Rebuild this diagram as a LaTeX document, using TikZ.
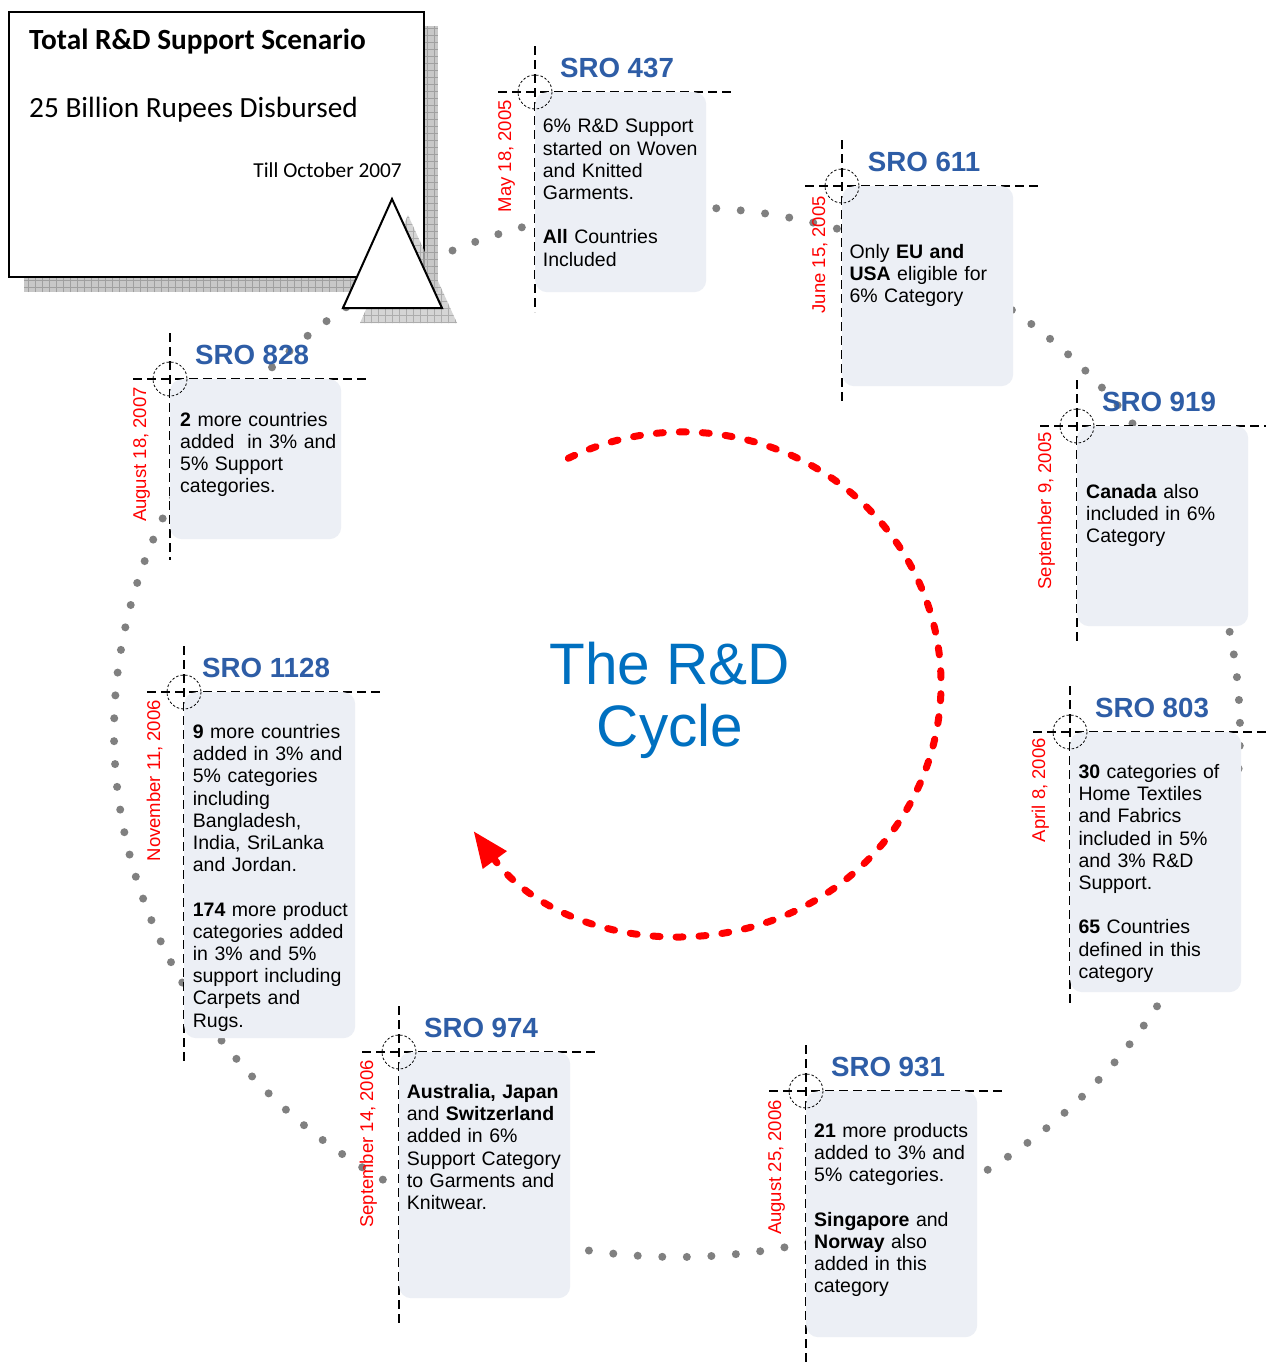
\documentclass[tikz,border=0pt]{standalone}
\usepackage{fontspec}
\setmainfont{Liberation Sans}
\newfontfamily\carlito{Carlito}
\usetikzlibrary{arrows.meta}
\definecolor{sroblue}{RGB}{46,93,166}
\definecolor{cycleblue}{RGB}{0,112,192}
\definecolor{cardfill}{RGB}{236,239,245}
\definecolor{dotgray}{RGB}{128,128,128}
\definecolor{shadowfill}{RGB}{200,200,200}
\definecolor{shadowgrid}{RGB}{160,160,160}
\tikzset{
  card/.style={fill=cardfill, rounded corners=12pt, draw=none, inner sep=0pt, anchor=north west},
  guide/.style={draw=black, line width=1.5pt, dash pattern=on 9pt off 5pt},
  ring/.style={draw=black, line width=0.8pt, dash pattern=on 2.5pt off 2pt},
  srotitle/.style={font=\fontsize{27.7}{30}\selectfont\bfseries, text=sroblue, inner sep=0pt, anchor=base},
  datelbl/.style={font=\fontsize{18.5}{20}\selectfont, text=red, rotate=90, anchor=base east, inner sep=0pt},
  cardtext/.style={font=\fontsize{19.5}{22.2}\selectfont, text width=175pt, align=left, anchor=north west, inner sep=0pt},
  boxfont/.style={inner sep=0pt},
  gridshade/.style={shadowgrid, line width=0.7pt},
}
% #1 id, #2 cx, #3 cy, #4 card height, #5 guide bottom, #6 date shift, #7 title, #8 date
\newcommand\sroitem[8]{%
  \coordinate (x#1) at (#2,#3);
  \draw[guide] (#2,#3-46) -- (#2,#5);
  \draw[guide] (#2-37,#3) -- (#2+198,#3);
  \node[card, minimum width=171pt, minimum height=#4pt] (c#1) at (x#1) {};
  \draw[ring] (x#1) circle (17);
  \node[srotitle] (t#1) at (#2+82,#3-15) {#7};
  \node[datelbl] (d#1) at ([shift={(#6)}]x#1) {#8};
}
\begin{document}
\begin{tikzpicture}[x=1pt,y=-1pt]
\useasboundingbox (0,0) rectangle (1266,1363);
\fill[white] (0,0) rectangle (1266,1363);

% dotted orbit
\foreach \a in {0,2.5,...,357.5}
  \fill[dotgray] ({677+563*cos(\a+1.5)},{732+525*sin(\a+1.5)}) circle (4);

% summary box with shadow
\begin{scope}
  \clip (24,26) rectangle (438,292);
  \fill[shadowfill] (24,26) rectangle (438,292);
  \draw[gridshade] (24,26) grid[step=7pt] (438,292);
\end{scope}
\node[draw=black, line width=2pt, fill=white, minimum width=415pt, minimum height=265pt, anchor=north west, inner sep=0pt] (box) at (8,11) {};
\node[boxfont, anchor=base west, font=\carlito\fontsize{29.3}{31}\selectfont\bfseries] (boxtitle) at (29,49) {Total R\&D Support Scenario};
\node[boxfont, anchor=base west, font=\carlito\fontsize{29.3}{31}\selectfont] (boxsum) at (29,117) {25 Billion Rupees Disbursed};
\node[boxfont, anchor=base east, font=\carlito\fontsize{21.3}{23}\selectfont] (boxdate) at (402,177) {Till October 2007};

% triangle with shadow
\begin{scope}[opacity=0.75]
  \clip (408,215) -- (360,323) -- (457,323) -- cycle;
  \fill[shadowfill] (350,210) rectangle (460,325);
  \draw[gridshade] (350,210) grid[step=7pt] (460,325);
\end{scope}
\draw[line width=2pt, fill=white, line join=miter] (392,199) -- (343,308) -- (442,308) -- cycle;

% SRO items
\sroitem{437}{535}{92}{200}{312}{-24,8}{SRO 437}{May 18, 2005}
\sroitem{611}{842}{186}{200}{405}{-17,10}{SRO 611}{June 15, 2005}
\sroitem{919}{1077}{426}{200}{645}{-26,6}{SRO 919}{September 9, 2005}
\sroitem{803}{1070}{732}{260}{1005}{-25,6}{SRO 803}{April 8, 2006}
\sroitem{931}{806}{1091}{246}{1363}{-25,9}{SRO 931}{August 25, 2006}
\sroitem{974}{399}{1052}{246}{1325}{-26,8}{SRO 974}{September 14, 2006}
\sroitem{1128}{184}{692}{346}{1065}{-24,8}{SRO 1128}{November 11, 2006}
\sroitem{828}{170}{379}{160}{560}{-24,8}{SRO 828}{August 18, 2007}

% card texts
\node[cardtext] (s437) at (542.7,117.7) {\rule{0pt}{15pt}6\% R\&D Support\\ started on Woven\\ and Knitted\\ Garments.\\[22.2pt] \textbf{All} Countries\\ Included};
\node[cardtext] (s611) at (849.3,243.3) {\rule{0pt}{15pt}Only \textbf{EU and}\\ \textbf{USA} eligible for\\ 6\% Category};
\node[cardtext] (s919) at (1086,483.3) {\rule{0pt}{15pt}\textbf{Canada} also\\ included in 6\%\\ Category};
\node[cardtext] (s803) at (1078.3,763.3) {\rule{0pt}{15pt}\textbf{30} categories of\\ Home Textiles\\ and Fabrics\\ included in 5\%\\ and 3\% R\&D\\ Support.\\[22.2pt] \textbf{65} Countries\\ defined in this\\ category};
\node[cardtext] (s931) at (814,1122.3) {\rule{0pt}{15pt}\textbf{21} more products\\ added to 3\% and\\ 5\% categories.\\[22.2pt] \textbf{Singapore} and\\ \textbf{Norway} also\\ added in this\\ category};
\node[cardtext] (s974) at (406.7,1083.3) {\rule{0pt}{15pt}\textbf{Australia, Japan}\\ and \textbf{Switzerland}\\ added in 6\%\\ Support Category\\ to Garments and\\ Knitwear.};
\node[cardtext] (s1128) at (192.7,723.3) {\rule{0pt}{15pt}\textbf{9} more countries\\ added in 3\% and\\ 5\% categories\\ including\\ Bangladesh,\\ India, SriLanka\\ and Jordan.\\[22.2pt] \textbf{174} more product\\ categories added\\ in 3\% and 5\%\\ support including\\ Carpets and\\ Rugs.};
\node[cardtext] (s828) at (180,411) {\rule{0pt}{15pt}\textbf{2} more countries\\ added\ \ in 3\% and\\ 5\% Support\\ categories.};

% centre
\node[inner sep=0pt, anchor=base, font=\fontsize{58.5}{60}\selectfont, text=cycleblue] (cyc1) at (670,684) {The R\&D};
\node[inner sep=0pt, anchor=base, font=\fontsize{58.5}{60}\selectfont, text=cycleblue] (cyc2) at (670,746) {Cycle};
\coordinate (rc) at (683,684);
\draw[red, line width=7pt, dash pattern=on 7pt off 16pt, line cap=round, -{Triangle[length=36pt,width=28pt]}]
  (rc) ++(-116.4:258 and 252) arc[start angle=-116.4, end angle=144.3, x radius=258, y radius=252];
\end{tikzpicture}
\end{document}
